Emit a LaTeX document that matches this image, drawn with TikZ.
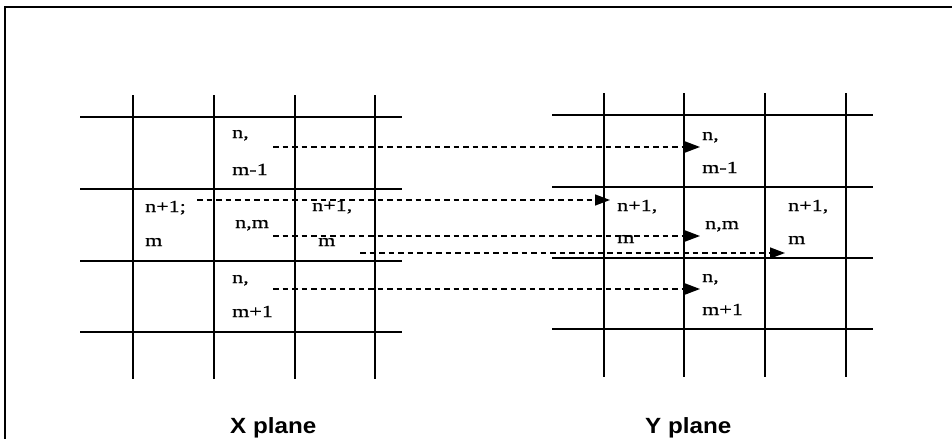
\documentclass[tikz,border=0pt]{standalone}
\usepackage{fontspec}
\setmainfont{Liberation Serif}
\newfontfamily\cellfont[FakeStretch=1.3,FakeBold=0.4]{Liberation Serif}
\newfontfamily\capfont[FakeStretch=1.1]{Liberation Sans}
\usetikzlibrary{arrows.meta}
\begin{document}
\begin{tikzpicture}[x=1pt,y=-1pt,
  gridline/.style={line width=1.3pt},
  frameline/.style={line width=1.8pt},
  cell/.style={anchor=base west,inner sep=0pt,font=\cellfont\fontsize{17}{17}\selectfont},
  planecap/.style={anchor=base west,inner sep=0pt,font=\capfont\bfseries\fontsize{22}{22}\selectfont},
  mapto/.style={line width=1.4pt,dash pattern=on 5.5pt off 4pt,
    -{Triangle[length=15pt,width=11pt]}}]
\useasboundingbox (0,0) rectangle (952,439);
% outer frame (top and left edges)
\draw[frameline] (952,7) -- (5,7) -- (5,439);
% X plane grid
\foreach \x in {133,214,295,375} \draw[gridline] (\x,95) -- (\x,379);
\foreach \y in {117,189,261,332} \draw[gridline] (80,\y) -- (402,\y);
% Y plane grid
\foreach \x in {604,684,765,846} \draw[gridline] (\x,93) -- (\x,377);
\foreach \y in {115,187,258,329} \draw[gridline] (552,\y) -- (873,\y);
% X plane cell labels
\node[cell] (xa1) at (232,138) {n,};
\node[cell] (xa2) at (232,175) {m-1};
\node[cell] (xb1) at (145,212) {n+1;};
\node[cell] (xb2) at (145,246) {m};
\node[cell] (xc)  at (235,228) {n,m};
\node[cell] (xd1) at (312,211) {n+1,};
\node[cell] (xd2) at (318,246) {m};
\node[cell] (xe1) at (232,283) {n,};
\node[cell] (xe2) at (232,317) {m+1};
% Y plane cell labels
\node[cell] (ya1) at (702,140) {n,};
\node[cell] (ya2) at (702,173) {m-1};
\node[cell] (yb1) at (617,211) {n+1,};
\node[cell] (yb2) at (617,243) {m};
\node[cell] (yc)  at (705,229) {n,m};
\node[cell] (yd1) at (788,211) {n+1,};
\node[cell] (yd2) at (788,244) {m};
\node[cell] (ye1) at (702,282) {n,};
\node[cell] (ye2) at (702,315) {m+1};
% plane captions
\node[planecap] (xcap) at (230,433) {X plane};
\node[planecap] (ycap) at (645,433) {Y plane};
% mapping connectors
\coordinate (s1) at (273,147); \coordinate (t1) at (700,147);
\coordinate (s2) at (197,200); \coordinate (t2) at (610,200);
\coordinate (s3) at (273,236); \coordinate (t3) at (700,236);
\coordinate (s4) at (360,253); \coordinate (t4) at (785,253);
\coordinate (s5) at (273,289); \coordinate (t5) at (700,289);
\draw[mapto] (s1) -- (t1);
\draw[mapto] (s2) -- (t2);
\draw[mapto] (s3) -- (t3);
\draw[mapto] (s4) -- (t4);
\draw[mapto] (s5) -- (t5);
\end{tikzpicture}
\end{document}
